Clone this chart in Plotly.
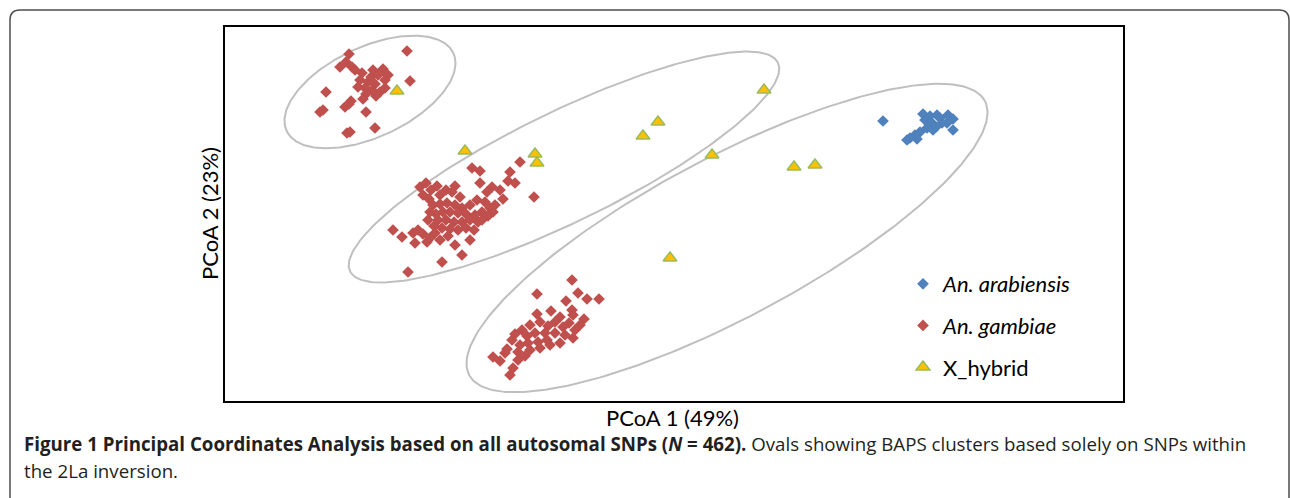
import numpy as np
import plotly.graph_objects as go

# ---------------- data (PCoA coordinates) ----------------
arab_x = [0.209, 0.249, 0.256, 0.263, 0.274, 0.279, 0.258, 0.268, 0.273, 0.279,
          0.253, 0.259, 0.246, 0.241, 0.236, 0.233, 0.243, 0.266, 0.251, 0.262]
arab_y = [0.093, 0.100, 0.098, 0.099, 0.099, 0.095, 0.091, 0.091, 0.091, 0.084,
          0.086, 0.084, 0.082, 0.079, 0.076, 0.074, 0.075, 0.096, 0.094, 0.087]

gamb_x = [
    # upper-left group
    -0.325, -0.267, -0.334, -0.322, -0.328, -0.312, -0.301, -0.291, -0.296, -0.314,
    -0.306, -0.299, -0.289, -0.309, -0.302, -0.294, -0.289, -0.316, -0.308, -0.298,
    -0.264, -0.348, -0.323, -0.329, -0.325, -0.311, -0.354, -0.351, -0.308, -0.327,
    -0.324, -0.299, -0.319, -0.286, -0.303,
    # middle group
    -0.202, -0.194, -0.154, -0.164, -0.166, -0.159, -0.194, -0.182, -0.187, -0.171,
    -0.140, -0.254, -0.248, -0.243, -0.237, -0.251, -0.245, -0.234, -0.228, -0.222,
    -0.219, -0.214, -0.241, -0.234, -0.227, -0.219, -0.212, -0.204, -0.197, -0.189,
    -0.184, -0.192, -0.199, -0.208, -0.216, -0.224, -0.231, -0.238, -0.244, -0.236,
    -0.228, -0.220, -0.212, -0.204, -0.196, -0.186, -0.181, -0.192, -0.216, -0.224,
    -0.232, -0.240, -0.246, -0.208, -0.200, -0.179, -0.174, -0.281, -0.272, -0.261,
    -0.256, -0.259, -0.247, -0.244, -0.234, -0.226, -0.251, -0.239, -0.232, -0.212,
    -0.266, -0.219, -0.204,
    # lower group
    -0.102, -0.137, -0.096, -0.087, -0.075, -0.108, -0.123, -0.137, -0.102, -0.101,
    -0.090, -0.114, -0.105, -0.099, -0.111, -0.119, -0.126, -0.134, -0.144, -0.152,
    -0.159, -0.147, -0.139, -0.129, -0.119, -0.109, -0.101, -0.127, -0.136, -0.146,
    -0.154, -0.162, -0.167, -0.156, -0.144, -0.134, -0.124, -0.149, -0.181, -0.174,
    -0.161, -0.164, -0.156, -0.169, -0.114, -0.094,
]
gamb_y = [
    0.160, 0.163, 0.147, 0.147, 0.152, 0.141, 0.144, 0.145, 0.139, 0.134,
    0.132, 0.130, 0.134, 0.126, 0.124, 0.122, 0.126, 0.127, 0.120, 0.118,
    0.133, 0.122, 0.113, 0.107, 0.110, 0.115, 0.102, 0.104, 0.102, 0.081,
    0.082, 0.086, 0.144, 0.139, 0.137,
    0.046, 0.043, 0.052, 0.042, 0.033, 0.031, 0.031, 0.027, 0.022, 0.015,
    0.017, 0.027, 0.031, 0.024, 0.028, 0.019, 0.015, 0.019, 0.024, 0.022,
    0.028, 0.017, 0.009, 0.010, 0.011, 0.009, 0.006, 0.009, 0.014, 0.012,
    0.006, 0.002, -0.001, 0.000, 0.001, 0.002, 0.002, 0.000, 0.002, -0.006,
    -0.006, -0.008, -0.008, -0.006, -0.008, -0.002, 0.002, -0.006, -0.016, -0.015,
    -0.014, -0.012, -0.006, -0.014, -0.016, 0.009, 0.024, -0.016, -0.023, -0.019,
    -0.016, -0.029, -0.028, -0.024, -0.026, -0.022, -0.020, -0.019, -0.048, -0.041,
    -0.058, -0.031, -0.026,
    -0.066, -0.080, -0.079, -0.085, -0.085, -0.087, -0.097, -0.100, -0.096, -0.101,
    -0.105, -0.103, -0.109, -0.116, -0.113, -0.108, -0.112, -0.108, -0.111, -0.116,
    -0.120, -0.122, -0.119, -0.119, -0.119, -0.121, -0.124, -0.126, -0.128, -0.129,
    -0.131, -0.126, -0.135, -0.138, -0.136, -0.134, -0.131, -0.142, -0.143, -0.147,
    -0.154, -0.161, -0.146, -0.139, -0.129, -0.111,
]

hyb_x = [-0.277, -0.209, -0.139, -0.137, -0.031, -0.016, 0.090, 0.038, 0.120, 0.141, -0.004]
hyb_y = [0.123, 0.063, 0.060, 0.051, 0.078, 0.092, 0.124, 0.059, 0.047, 0.049, -0.044]

# BAPS cluster ovals: centre x, centre y, semi-major, semi-minor, angle (deg)
oval_cx = [-0.304, -0.110, 0.053]
oval_cy = [0.122, 0.047, -0.024]
oval_a = [0.092, 0.238, 0.292]
oval_b = [0.045, 0.055, 0.080]
oval_ang = [25, 26, 28]

series_names = ["<i>An. arabiensis</i>", "<i>An. gambiae</i>", "X_hybrid"]
x_title = "PCoA 1 (49%)"
y_title = "PCoA 2 (23%)"

# ---------------- figure ----------------
W, H = 1290, 498
L, R, T, B = 225, 1123, 27, 401  # plot area in pixels

fig = go.Figure()

t = np.linspace(0, 2 * np.pi, 300)
for cx, cy, a, b, ang in zip(oval_cx, oval_cy, oval_a, oval_b, oval_ang):
    th = np.deg2rad(ang)
    ex = cx + a * np.cos(t) * np.cos(th) - b * np.sin(t) * np.sin(th)
    ey = cy + a * np.cos(t) * np.sin(th) + b * np.sin(t) * np.cos(th)
    fig.add_trace(go.Scatter(x=ex, y=ey, mode="lines", showlegend=False,
                             hoverinfo="skip",
                             line=dict(color="#BFBFBF", width=2)))

fig.add_trace(go.Scatter(x=arab_x, y=arab_y, mode="markers", name=series_names[0],
                         legendgroup="a",
                         marker=dict(symbol="diamond", size=9, color="#4F81BD")))
fig.add_trace(go.Scatter(x=gamb_x, y=gamb_y, mode="markers", name=series_names[1],
                         legendgroup="b",
                         marker=dict(symbol="diamond", size=9, color="#C0504D")))
fig.add_trace(go.Scatter(x=hyb_x, y=hyb_y, mode="markers", name=series_names[2],
                         legendgroup="c",
                         marker=dict(symbol="triangle-up", size=12, color="#FFC000",
                                     line=dict(color="#9BBB59", width=1.5))))


def px2paper(px, py):
    return (px - L) / (R - L), (B - py) / (B - T)


def P(px, py):
    a, b = px2paper(px, py)
    return f"{a:.5f},{b:.5f}"


# outer rounded frame
r = 10
x0, x1, y0, y1 = 10, 1289, 10, 520
path = (f"M {P(x0, y1)} L {P(x0, y0 + r)} Q {P(x0, y0)} {P(x0 + r, y0)} "
        f"L {P(x1 - r, y0)} Q {P(x1, y0)} {P(x1, y0 + r)} L {P(x1, y1)}")
fig.add_shape(type="path", path=path, xref="paper", yref="paper",
              line=dict(color="#4D4D4D", width=1.5), layer="below")

ax, ay = px2paper(672, 417)
fig.add_annotation(x=ax, y=ay, xref="paper", yref="paper", text=x_title,
                   showarrow=False, font=dict(family="Lato", size=22, color="#000"),
                   xanchor="center", yanchor="middle")
ax, ay = px2paper(209, 214)
fig.add_annotation(x=ax, y=ay, xref="paper", yref="paper", text=y_title,
                   showarrow=False, textangle=-90,
                   font=dict(family="Lato", size=22, color="#000"),
                   xanchor="center", yanchor="middle")

cap1 = ("<b>Figure 1 Principal Coordinates Analysis based on all autosomal SNPs "
        "(<i>N</i> = 462).</b> Ovals showing BAPS clusters based solely on SNPs within")
cap2 = "the 2La inversion."
ax, ay = px2paper(22, 443)
fig.add_annotation(x=ax, y=ay, xref="paper", yref="paper", text=cap1,
                   showarrow=False, font=dict(family="Open Sans", size=18.7, color="#231F20"),
                   xanchor="left", yanchor="middle")
ax, ay = px2paper(22, 470)
fig.add_annotation(x=ax, y=ay, xref="paper", yref="paper", text=cap2,
                   showarrow=False, font=dict(family="Open Sans", size=18.7, color="#231F20"),
                   xanchor="left", yanchor="middle")

lx, ly = px2paper(903, 263)
fig.update_layout(
    width=W, height=H,
    margin=dict(l=L, r=W - R, t=T, b=H - B, pad=0),
    paper_bgcolor="white", plot_bgcolor="white",
    showlegend=True,
    legend=dict(x=lx, y=ly, xanchor="left", yanchor="top",
                font=dict(family="Lato", size=22, color="#000"),
                traceorder="grouped", tracegroupgap=10,
                bgcolor="rgba(0,0,0,0)"),
    xaxis=dict(range=[-0.449, 0.449], showgrid=False, zeroline=False,
               showticklabels=False, ticks="", showline=True, mirror=True,
               linecolor="black", linewidth=2),
    yaxis=dict(range=[-0.187, 0.187], showgrid=False, zeroline=False,
               showticklabels=False, ticks="", showline=True, mirror=True,
               linecolor="black", linewidth=2),
    font=dict(family="Lato"),
)

fig.write_html("out.html", config={"displayModeBar": False})

# remove the browser's default page margin so the figure sits at (0, 0)
with open("out.html", "r", encoding="utf-8") as f:
    html = f.read()
html = html.replace("<head>", "<head><style>html,body{margin:0;padding:0;overflow:hidden;}</style>", 1)
with open("out.html", "w", encoding="utf-8") as f:
    f.write(html)
